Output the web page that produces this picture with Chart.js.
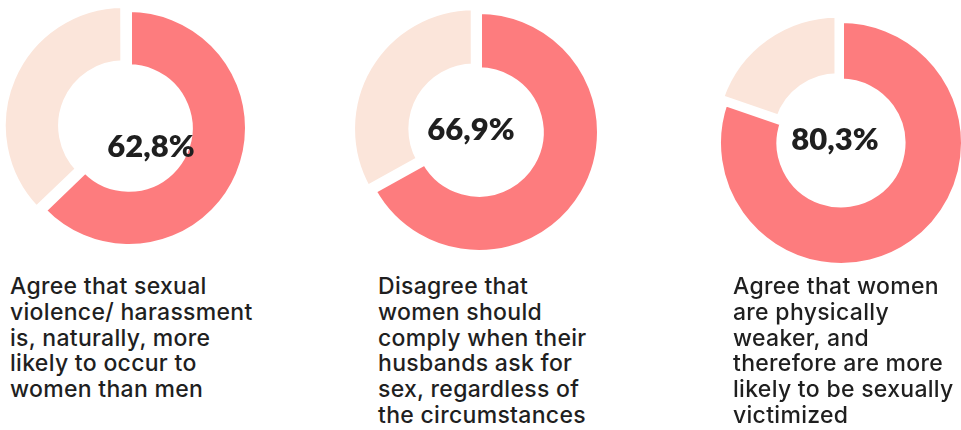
<!DOCTYPE html>
<html>
<head>
<meta charset="utf-8">
<script src="https://cdn.jsdelivr.net/npm/chart.js@4.4.0/dist/chart.umd.min.js"></script>
<style>
    html, body { margin: 0; padding: 0; background: #fff; }
    body { width: 961px; height: 430px; position: relative; overflow: hidden; }
    .donut { position: absolute; }
    .caption {
        position: absolute;
        top: 274px;
        font-family: Inter, "Noto Sans", sans-serif;
        font-weight: 500;
        font-size: 23px;
        line-height: 25.8px;
        letter-spacing: 0.3px;
        color: #1f1f1f;
        white-space: nowrap;
    }
</style>
</head>
<body>
<div class="donut" id="box0"><canvas id="donut0"></canvas></div>
<div class="donut" id="box1"><canvas id="donut1"></canvas></div>
<div class="donut" id="box2"><canvas id="donut2"></canvas></div>
<div class="caption" id="cap0"></div>
<div class="caption" id="cap1"></div>
<div class="caption" id="cap2"></div>

<script>
// share of respondents for each statement (%)
const shares = [62.8, 66.9, 80.3];
const statements = [
    ['Agree that sexual', 'violence/ harassment', 'is, naturally, more', 'likely to occur to', 'women than men'],
    ['Disagree that', 'women should', 'comply when their', 'husbands ask for', 'sex, regardless of', 'the circumstances'],
    ['Agree that women', 'are physically', 'weaker, and', 'therefore are more', 'likely to be sexually', 'victimized']
];

const PINK = '#fd7c7e';
const BEIGE = '#fbe5da';

// where each donut sits on the page
const layout = [
    { left: 3,   width: 252, height: 256, radius: 119, cutout: '51%', text: [22, 19], caption: 10 },
    { left: 354, width: 250, height: 264, radius: 121, cutout: '51%', text: [-8, -2], caption: 378 },
    { left: 716, width: 250, height: 286, radius: 123, cutout: '50%', text: [-6, -3], caption: 733 }
];

const centerText = {
    id: 'centerText',
    afterDatasetsDraw(chart, args, opts) {
        const ctx = chart.ctx;
        const { left, right, top, bottom } = chart.chartArea;
        ctx.save();
        ctx.font = '800 31px Lato, "Open Sans", sans-serif';
        ctx.fillStyle = '#1f1f1f';
        ctx.textAlign = 'center';
        ctx.textBaseline = 'middle';
        ctx.fillText(opts.label, (left + right) / 2 + opts.dx, (top + bottom) / 2 + opts.dy);
        ctx.restore();
    }
};

function formatShare(v) {
    return v.toFixed(1).replace('.', ',') + '%';
}

shares.forEach((share, i) => {
    const pos = layout[i];
    const box = document.getElementById('box' + i);
    box.style.left = pos.left + 'px';
    box.style.top = '0px';
    box.style.width = pos.width + 'px';
    box.style.height = pos.height + 'px';

    new Chart(document.getElementById('donut' + i), {
        type: 'doughnut',
        data: {
            labels: ['Share', 'Rest'],
            datasets: [{
                data: [share, +(100 - share).toFixed(1)],
                backgroundColor: [PINK, BEIGE],
                borderColor: '#fff',
                borderWidth: 6,
                offset: [0, 24]
            }]
        },
        options: {
            responsive: true,
            maintainAspectRatio: false,
            animation: false,
            radius: pos.radius,
            cutout: pos.cutout,
            layout: { padding: 0 },
            events: [],
            plugins: {
                legend: { display: false },
                tooltip: { enabled: false },
                centerText: { label: formatShare(share), dx: pos.text[0], dy: pos.text[1] }
            }
        },
        plugins: [centerText]
    });

    const cap = document.getElementById('cap' + i);
    cap.style.left = pos.caption + 'px';
    cap.innerHTML = statements[i].join('<br>');
});
</script>
</body>
</html>
